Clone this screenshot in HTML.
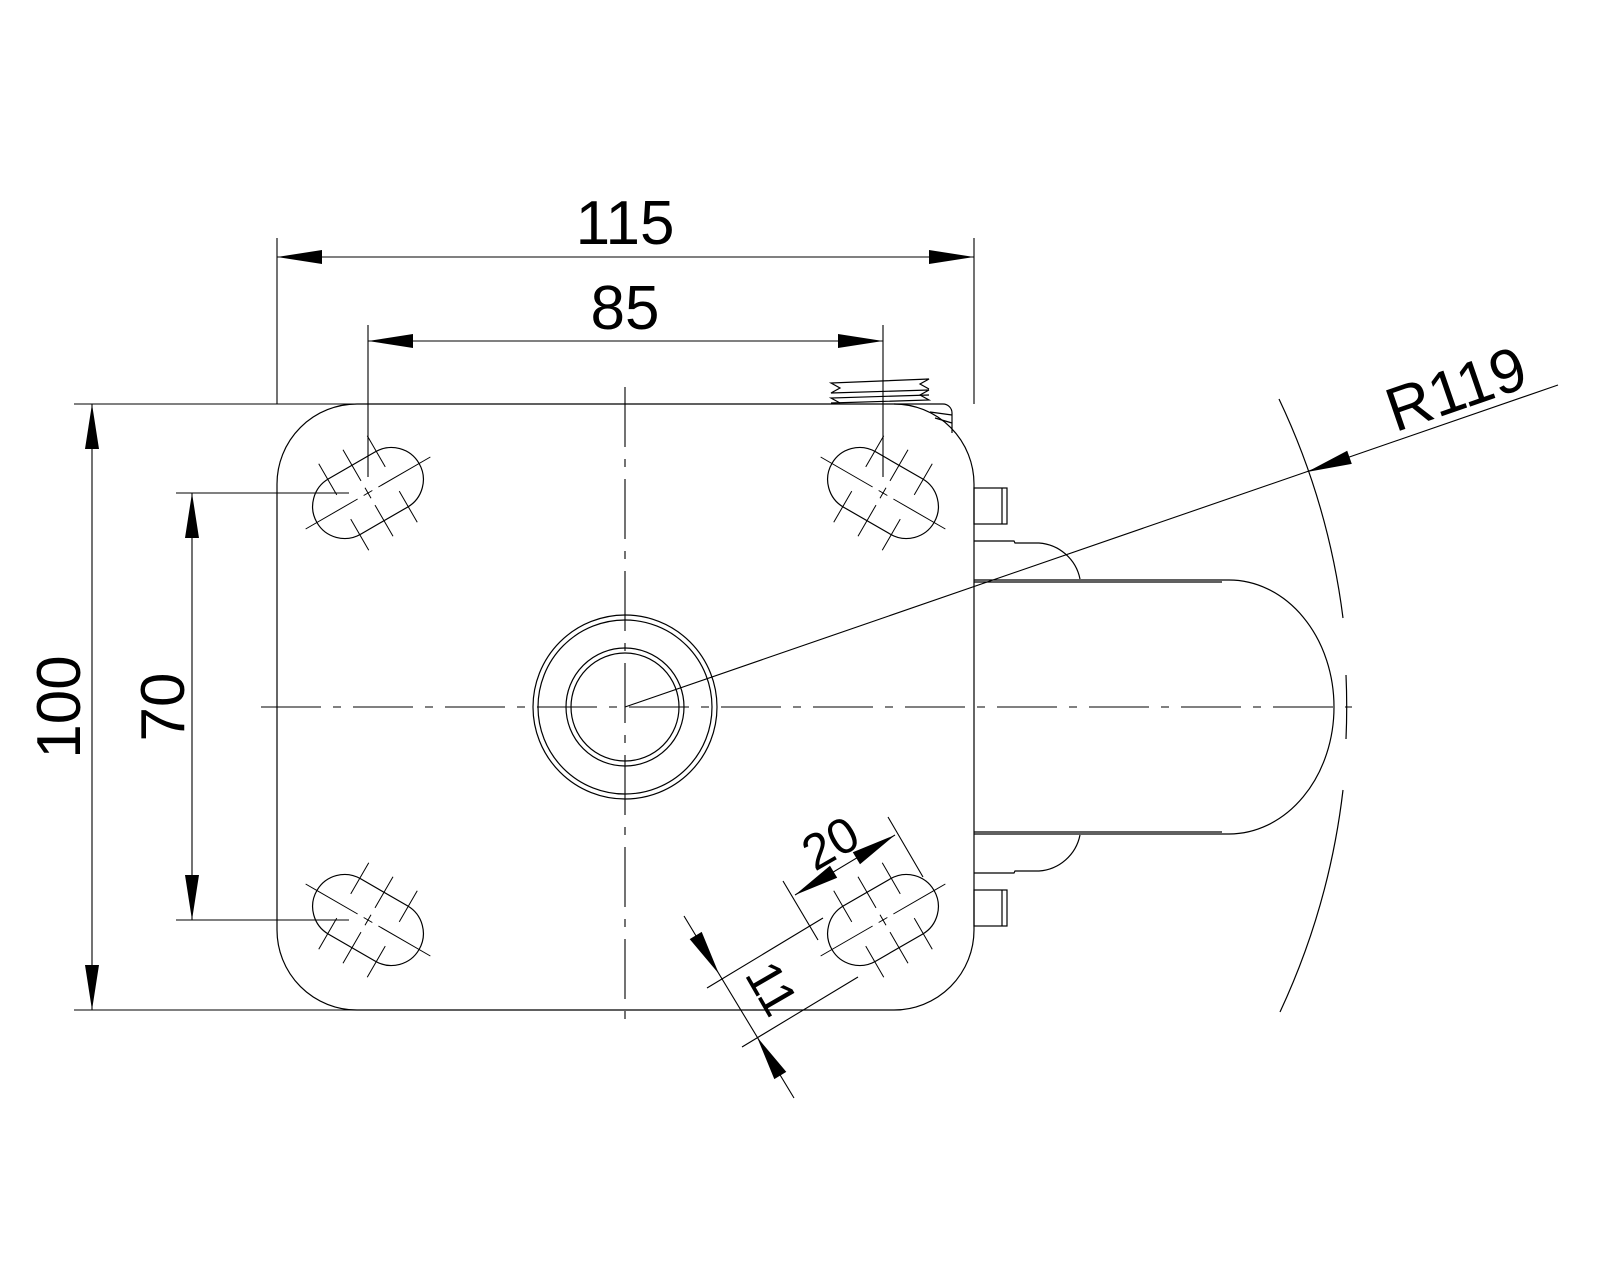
<!DOCTYPE html>
<html><head><meta charset="utf-8"><style>html,body{margin:0;padding:0;background:#fff}svg{display:block}</style></head>
<body>
<svg width="1600" height="1280" viewBox="0 0 1600 1280" xmlns="http://www.w3.org/2000/svg">
<defs>
<g id="slot">
<path d="M-27,-32 L27,-32 A32 32 0 0 1 27 32 L-27 32 A32 32 0 0 1 -27 -32 Z" fill="none" stroke="#000" stroke-width="1.2"/>
<g stroke="#000" stroke-width="1">
<line x1="-72" y1="0" x2="-12" y2="0"/><line x1="-5" y1="0" x2="5" y2="0"/><line x1="12" y1="0" x2="72" y2="0"/>
<line x1="-28" y1="-50" x2="-28" y2="-14"/><line x1="0" y1="-50" x2="0" y2="-14"/><line x1="28" y1="-50" x2="28" y2="-14"/>
<line x1="-28" y1="14" x2="-28" y2="50"/><line x1="0" y1="14" x2="0" y2="50"/><line x1="28" y1="14" x2="28" y2="50"/>
<line x1="0" y1="-6" x2="0" y2="6"/>
</g>
</g>
</defs>
<g fill="none" stroke="#000" stroke-width="1.2">
<path d="M357,404 H894 A80 80 0 0 1 974 484 V930 A80 80 0 0 1 894 1010 H357 A80 80 0 0 1 277 930 V484 A80 80 0 0 1 357 404 Z"/>
<circle cx="625" cy="707" r="92"/><circle cx="625" cy="707" r="87"/>
<circle cx="625" cy="707" r="59"/><circle cx="625" cy="707" r="54"/>
<path d="M894,404 H943 A9 9 0 0 1 952 413 V433"/>
<line x1="930" y1="412" x2="952" y2="415"/><line x1="935" y1="418" x2="952" y2="423"/>
<path d="M831,403 L929,400 L920,395 L929,390 L831,393 L840,388 L831,383 L929,379 L920,384 L929,389"/>
<path d="M840,403 L831,398 L929,395"/>
<rect x="974" y="488" width="33" height="36"/><line x1="1002" y1="488" x2="1002" y2="524"/>
<rect x="974" y="890" width="33" height="36"/><line x1="1002" y1="890" x2="1002" y2="926"/>
<path d="M974,541 H1014 L1015,543 H1039 A45 45 0 0 1 1080 579"/>
<path d="M974,873 H1014 L1015,871 H1039 A45 45 0 0 0 1080 835"/>
<path d="M974,580 H1229 A105 127 0 0 1 1229 834 H974"/>
<line x1="974" y1="582" x2="1222" y2="582"/><line x1="974" y1="832" x2="1222" y2="832"/>
<path d="M1279,399 A722 722 0 0 1 1343 618"/>
<path d="M1346,675 A722 722 0 0 1 1346 739"/>
<path d="M1343,790 A722 722 0 0 1 1280 1012"/>
</g>
<g stroke="#000" stroke-width="1.1">
<line x1="625" y1="387" x2="625" y2="1022" stroke-dasharray="60,12,8,12"/>
<line x1="261" y1="707" x2="1352" y2="707" stroke-dasharray="60,12,8,12"/>
</g>
<use href="#slot" transform="translate(368,493) rotate(-30)"/>
<use href="#slot" transform="translate(883,493) rotate(30)"/>
<use href="#slot" transform="translate(368,920) rotate(30)"/>
<use href="#slot" transform="translate(883,920) rotate(-30)"/>
<g stroke="#000" stroke-width="1.1">
<line x1="277" y1="238" x2="277" y2="404"/><line x1="974" y1="238" x2="974" y2="404"/>
<line x1="277" y1="257" x2="974" y2="257"/>
<line x1="368" y1="325" x2="368" y2="477"/><line x1="883" y1="325" x2="883" y2="477"/>
<line x1="368" y1="341" x2="883" y2="341"/>
<line x1="74" y1="404" x2="357" y2="404"/><line x1="74" y1="1010" x2="357" y2="1010"/>
<line x1="92" y1="404" x2="92" y2="1010"/>
<line x1="176" y1="493" x2="349" y2="493"/><line x1="176" y1="920" x2="349" y2="920"/>
<line x1="192" y1="493" x2="192" y2="920"/>
<line x1="625" y1="707" x2="1558" y2="385"/>
<line x1="795" y1="895" x2="895" y2="835"/>
<line x1="783" y1="881" x2="818" y2="940"/><line x1="888" y1="817" x2="923" y2="877"/>
<line x1="684" y1="916" x2="794" y2="1098"/>
<line x1="707" y1="988" x2="823" y2="918"/><line x1="742" y1="1047" x2="858" y2="977"/>
</g>
<g fill="#000">
<polygon points="277,257 322,250 322,264"/><polygon points="974,257 929,250 929,264"/>
<polygon points="368,341 413,334 413,348"/><polygon points="883,341 838,334 838,348"/>
<polygon points="92,404 85,449 99,449"/><polygon points="92,1010 85,965 99,965"/>
<polygon points="192,493 185,538 199,538"/><polygon points="192,920 185,875 199,875"/>
<polygon points="1307,472 1351.8,463.9 1347.2,450.7"/>
<polygon points="795,895 837.2,877.8 830,865.8"/><polygon points="895,835 860,864.2 852.8,852.2"/>
<polygon points="719,974 701.7,931.9 689.7,939.1"/><polygon points="757,1037 786.3,1071.9 774.3,1079.1"/>
</g>
<g font-family="Liberation Sans, sans-serif" fill="#000" text-anchor="middle">
<text x="625" y="244" font-size="62">115</text>
<text x="625" y="329" font-size="62">85</text>
<text transform="translate(80,707) rotate(-90)" font-size="62">100</text>
<text transform="translate(184,707) rotate(-90)" font-size="62">70</text>
<text transform="translate(1463,409) rotate(-19)" font-size="62">R119</text>
<text transform="translate(839,858) rotate(-30)" font-size="50">20</text>
<text transform="translate(757,997) rotate(60)" font-size="50">11</text>
</g>
</svg>
</body></html>
